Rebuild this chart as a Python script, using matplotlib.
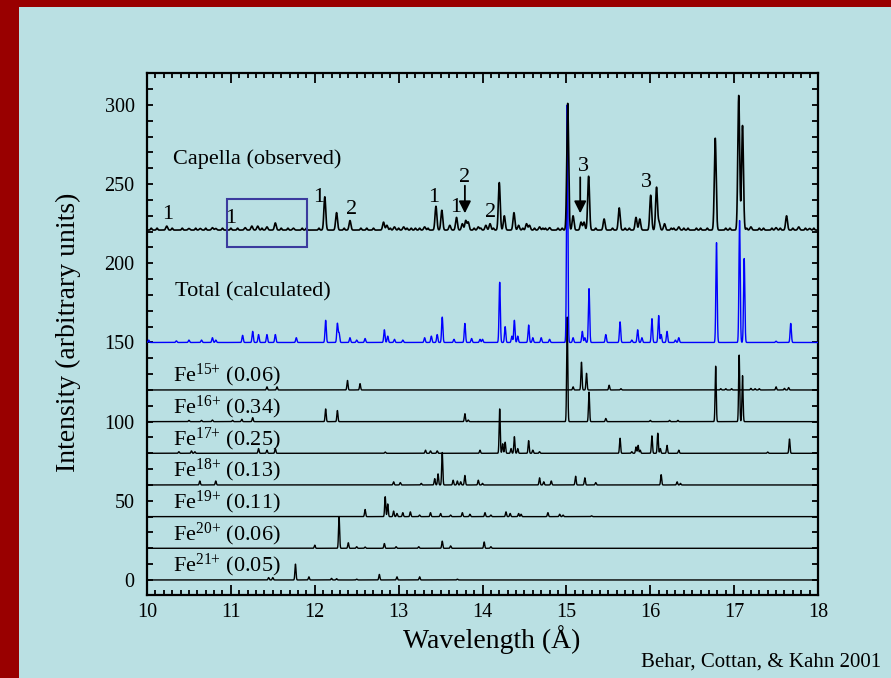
import numpy as np
import matplotlib
matplotlib.use("Agg")
import matplotlib.pyplot as plt
from matplotlib.ticker import MultipleLocator
from matplotlib.patches import Rectangle

plt.rcParams['font.family'] = ['Liberation Serif', 'DejaVu Serif']
plt.rcParams['mathtext.fontset'] = 'custom'
plt.rcParams['mathtext.rm'] = 'Liberation Serif'
plt.rcParams['mathtext.default'] = 'regular'

# ---------------- data (line lists: wavelength [A], peak height above baseline) -------------
capella_base = 221
capella_lines = [
    (10.235, 2.5), (10.5, 1), (10.635, 1), (10.78, 1.5), (10.82, 1), (11.17, 1.5), (11.25, 2.5),
    (11.32, 2.5), (11.43, 2), (11.53, 4.5), (11.745, 1.2), (12.12, 21), (12.26, 11), (12.42, 6),
    (12.82, 5), (12.86, 3), (12.95, 2), (13.06, 2), (13.31, 2), (13.445, 15), (13.515, 12.5),
    (13.61, 3), (13.69, 8), (13.76, 4), (13.80, 6), (13.83, 5), (13.95, 2), (14.04, 3), (14.09, 4),
    (14.20, 30), (14.26, 9), (14.375, 11), (14.43, 3), (14.525, 4), (14.56, 3), (14.68, 2),
    (14.80, 1.5), (15.016, 80), (15.08, 9), (15.175, 5), (15.21, 5), (15.265, 34), (15.45, 7),
    (15.63, 14), (15.83, 8), (15.875, 7), (16.005, 22), (16.075, 27), (16.105, 5), (16.17, 4),
    (16.34, 2), (16.775, 58), (17.055, 85), (17.10, 66), (17.20, 2), (17.50, 1.5), (17.625, 9),
    (17.77, 2), (17.90, 1),
]
capella_weak = [
    10.05, 10.12, 10.30, 10.42, 10.58, 10.70, 10.90, 11.00, 11.08, 11.37, 11.60, 11.68, 11.85,
    11.90, 12.05, 12.35, 12.55, 12.62, 12.70, 12.90, 13.00, 13.10, 13.15, 13.20, 13.25, 13.35,
    13.90, 13.98, 14.13, 14.48, 14.62, 14.72, 14.75, 14.90, 14.95, 15.35, 15.55, 15.70, 15.75,
    16.25, 16.28, 16.40, 16.45, 16.55, 16.60, 16.68, 16.90, 16.95, 17.15, 17.30, 17.35, 17.45,
    17.55, 17.70, 17.85, 17.95,
]

total_base = 150
total_lines = [
    (10.02, 1.5), (10.35, 1), (10.50, 1.5), (10.65, 1.5), (10.78, 3), (10.82, 1.5), (11.14, 4.5),
    (11.26, 7), (11.33, 5), (11.43, 5), (11.53, 5), (11.78, 3), (12.13, 14), (12.27, 12),
    (12.29, 6), (12.42, 3), (12.50, 1.5), (12.60, 2.5), (12.83, 8), (12.87, 4), (12.95, 2),
    (13.05, 1.5), (13.31, 3), (13.39, 4), (13.46, 5), (13.52, 16), (13.66, 2), (13.79, 12),
    (13.87, 2.5), (13.97, 2), (14.00, 2), (14.205, 38), (14.27, 10), (14.35, 4), (14.38, 14),
    (14.42, 4), (14.55, 11), (14.60, 3), (14.70, 3), (14.80, 2), (15.01, 150), (15.08, 3),
    (15.19, 7), (15.22, 3), (15.27, 34), (15.47, 5), (15.64, 13), (15.78, 1.5), (15.85, 8),
    (15.90, 3), (16.02, 15), (16.10, 17), (16.13, 5), (16.20, 7), (16.30, 1.5), (16.34, 3),
    (16.79, 63), (17.065, 77), (17.12, 53), (17.50, 0.8), (17.675, 12),
]

ion_labels = ['Fe$^{15{+}}$ (0.06)', 'Fe$^{16{+}}$ (0.34)', 'Fe$^{17{+}}$ (0.25)',
              'Fe$^{18{+}}$ (0.13)', 'Fe$^{19{+}}$ (0.11)', 'Fe$^{20{+}}$ (0.06)',
              'Fe$^{21{+}}$ (0.05)']
ion_bases = [120, 100, 80, 60, 40, 20, 0]

fe15_lines = [(11.43, 2), (11.55, 2), (12.39, 6), (12.54, 4), (15.08, 2), (15.18, 17.5),
              (15.24, 10.5), (15.51, 3), (15.65, 0.8), (16.84, 0.8), (16.90, 0.8), (16.97, 0.8),
              (17.20, 1), (17.25, 0.8), (17.30, 0.8), (17.50, 2), (17.60, 1), (17.65, 1.5)]
fe16_lines = [(10.50, 0.8), (10.65, 0.8), (10.78, 1), (11.02, 0.8), (11.13, 1.5), (11.26, 2.5),
              (12.13, 8), (12.27, 7), (13.79, 5), (13.83, 1), (15.01, 66), (15.27, 18.6),
              (15.47, 2), (16.00, 0.8), (16.23, 0.8), (16.33, 0.8), (16.78, 35), (17.06, 42),
              (17.10, 29)]
fe17_lines = [(10.38, 1), (10.53, 1.5), (10.57, 1), (11.33, 3), (11.43, 2), (11.53, 3),
              (12.84, 0.8), (13.32, 2), (13.38, 1.5), (13.46, 1.5), (13.97, 2), (14.205, 28),
              (14.24, 6), (14.27, 7), (14.34, 3), (14.38, 10.5), (14.42, 3), (14.55, 8),
              (14.60, 2), (14.68, 1), (15.64, 9.5), (15.78, 1), (15.83, 4), (15.855, 5),
              (15.88, 2), (16.02, 11), (16.09, 12.7), (16.12, 3), (16.20, 5), (16.34, 2),
              (17.40, 0.8), (17.66, 9)]
fe18_lines = [(10.63, 2.5), (10.82, 2.5), (12.94, 2), (13.02, 1.5), (13.27, 1), (13.43, 4),
              (13.47, 7), (13.52, 20.5), (13.65, 3), (13.70, 2.5), (13.74, 2), (13.79, 6),
              (13.95, 3), (14.00, 1), (14.68, 4.5), (14.73, 2), (14.82, 2.5), (15.11, 5.5),
              (15.22, 4.5), (15.35, 1.5), (16.13, 6.5), (16.32, 2), (16.36, 1)]
fe19_lines = [(12.60, 4.5), (12.84, 12.6), (12.87, 8), (12.94, 3.5), (12.98, 2), (13.05, 2.5),
              (13.14, 3), (13.25, 1), (13.38, 2.5), (13.50, 2), (13.62, 1), (13.76, 2.5),
              (13.85, 1.5), (14.03, 2.5), (14.10, 1), (14.28, 3), (14.33, 2), (14.43, 2),
              (14.46, 1.5), (14.78, 2.5), (14.92, 1.5), (14.96, 1), (15.30, 0.5)]
fe20_lines = [(12.00, 2), (12.29, 20), (12.40, 3.5), (12.50, 1), (12.60, 0.8), (12.83, 3),
              (12.97, 1), (13.24, 1), (13.52, 4.5), (13.62, 1.5), (14.02, 4), (14.10, 1)]
fe21_lines = [(11.45, 1.5), (11.50, 1.5), (11.77, 10), (11.93, 2), (12.20, 1), (12.26, 0.8),
              (12.50, 0.5), (12.77, 3.5), (12.98, 2), (13.25, 2), (13.70, 0.5)]
ion_line_lists = [fe15_lines, fe16_lines, fe17_lines, fe18_lines, fe19_lines, fe20_lines, fe21_lines]

number_marks = [('1', 10.243, 228), ('1', 11.00, 225.3), ('1', 12.05, 239), ('2', 12.44, 231.2),
                ('1', 13.42, 239), ('1', 13.68, 232.6), ('2', 13.79, 251.6), ('2', 14.10, 229.5),
                ('3', 15.20, 258.5), ('3', 15.96, 248)]
arrow_marks = [(13.79, 249, 231.6), (15.165, 254.3, 231.6)]
box_range = (10.95, 11.91, 210.2, 240.7)

# ---------------- build spectra ----------------
wl = np.linspace(10, 18, 16001)


def spectrum(base, lines, sigma):
    y = np.full_like(wl, float(base))
    for c, a in lines:
        y += a * np.exp(-0.5 * ((wl - c) / sigma) ** 2)
    return y


capella = spectrum(capella_base, capella_lines, 0.011) + \
    spectrum(0, [(c, 1.2) for c in capella_weak], 0.008)
total = spectrum(total_base, total_lines, 0.0075)

# ---------------- figure ----------------
bg = '#bae0e3'
fig = plt.figure(figsize=(8.91, 6.78), dpi=100, facecolor=bg)
fig.patches.append(Rectangle((0, 1 - 7 / 678), 1, 7 / 678, transform=fig.transFigure,
                             facecolor='#990000', edgecolor='none', zorder=0))
fig.patches.append(Rectangle((0, 0), 19 / 891, 1, transform=fig.transFigure,
                             facecolor='#990000', edgecolor='none', zorder=0))

ax = fig.add_axes([147 / 891, 1 - 595 / 678, 671 / 891, 522 / 678])
ax.set_facecolor(bg)

for lines, base in zip(ion_line_lists, ion_bases):
    ax.plot(wl, spectrum(base, lines, 0.0065), color='black', lw=1.0, zorder=2)
ax.plot(wl, total, color='#0000ff', lw=1.0, zorder=3)
ax.plot(wl, capella, color='black', lw=1.2, zorder=4)

ax.add_patch(Rectangle((box_range[0], box_range[2]), box_range[1] - box_range[0],
                       box_range[3] - box_range[2], fill=False, edgecolor='#3b3b9e', lw=1.5,
                       zorder=5))

ax.text(10.306, 263, 'Capella (observed)', fontsize=16, va='baseline', ha='left')
ax.text(10.33, 179, 'Total (calculated)', fontsize=16, va='baseline', ha='left')
for lab, base in zip(ion_labels, ion_bases):
    ax.text(10.31, base + 5.2, lab, fontsize=16, va='baseline', ha='left')

for t, x, y in number_marks:
    ax.text(x, y, t, fontsize=16, ha='center', va='baseline', zorder=6)
for x, y0, y1 in arrow_marks:
    ax.annotate('', xy=(x, y1), xytext=(x, y0),
                arrowprops=dict(arrowstyle='-|>', color='black', lw=1.3,
                                mutation_scale=18, shrinkA=0, shrinkB=0), zorder=6)

ax.set_xlim(10, 18)
ax.set_ylim(-9.5, 320.2)
ax.xaxis.set_major_locator(MultipleLocator(1))
ax.xaxis.set_minor_locator(MultipleLocator(0.1))
ax.yaxis.set_major_locator(MultipleLocator(50))
ax.yaxis.set_minor_locator(MultipleLocator(10))
ax.tick_params(which='both', direction='in', top=True, right=True, width=1.3, colors='black')
ax.tick_params(axis='x', which='major', length=7, labelsize=14.5, pad=6)
ax.tick_params(axis='x', which='minor', length=3.5)
ax.tick_params(axis='y', which='major', length=4, labelsize=14.5, pad=9)
ax.tick_params(axis='y', which='minor', length=4)
for s in ax.spines.values():
    s.set_linewidth(1.6)

ax.set_ylabel('Intensity (arbitrary units)', fontsize=20, va='center')
ax.yaxis.set_label_coords(-0.1177, 0.504)
ax.set_xlabel('Wavelength (Å)', fontsize=20, va='center')
ax.xaxis.set_label_coords(0.514, -0.086)

fig.text(881 / 891, 1 - 662 / 678, 'Behar, Cottan, & Kahn 2001', fontsize=15,
         ha='right', va='center')

fig.savefig('out.png', dpi=100, facecolor=bg)
